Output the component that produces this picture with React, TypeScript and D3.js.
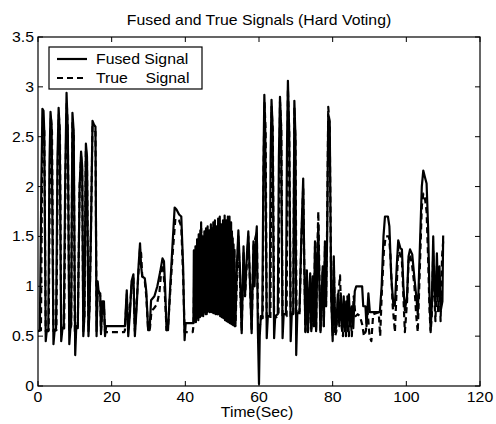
import React from "react";
import * as d3 from "d3";

const xTicks = [0, 20, 40, 60, 80, 100, 120];
const yTicks = [0, 0.5, 1, 1.5, 2, 2.5, 3, 3.5];
const yTickLabels = ["0", "0.5", "1", "1.5", "2", "2.5", "3", "3.5"];
const titleText = "Fused and True Signals (Hard Voting)";
const xLabelText = "Time(Sec)";
const legendLabels = ["Fused Signal", "True    Signal"];

// Fused signal [time, value]
const fusedA: [number, number][] = [
  [0, 0.55], [0.5, 0.56], [0.9, 2.0], [1.2, 2.78], [1.5, 2.76], [1.7, 2.55], [2.1, 0.45], [2.4, 0.56], [2.8, 0.55],
  [3.1, 2.2], [3.4, 2.75], [3.7, 2.6], [4.2, 0.42], [4.5, 0.55], [4.9, 0.58], [5.3, 2.3], [5.6, 2.79], [5.9, 2.55],
  [6.3, 0.45], [6.6, 0.56], [7.0, 0.6], [7.4, 2.1], [7.75, 2.94], [8.1, 2.55], [8.5, 0.42], [8.8, 0.58], [9.0, 0.62],
  [9.35, 2.74], [9.7, 2.55], [10.1, 0.31], [10.4, 0.6], [10.8, 0.58], [11.3, 2.0], [11.7, 2.35], [12.0, 2.2],
  [12.3, 0.5], [12.6, 0.7], [13.0, 2.43], [13.3, 2.3], [13.7, 0.5], [14.0, 0.8], [14.4, 1.6], [14.8, 2.66],
  [15.2, 2.62], [15.6, 2.6], [15.9, 0.5], [16.2, 1.05], [16.5, 0.93], [16.9, 0.93], [17.1, 0.52], [17.5, 0.85],
  [17.9, 0.85], [18.2, 0.5], [18.5, 0.6], [23.6, 0.6],
];
const fusedB: [number, number][] = [
  [24.1, 0.96], [24.5, 0.5], [25.0, 0.75], [25.4, 1.05], [25.9, 1.12], [26.3, 0.5], [26.8, 0.8], [27.3, 1.2],
  [27.7, 1.43], [28.0, 1.2], [28.3, 1.1], [29.0, 1.08], [29.4, 0.95], [29.9, 0.56], [30.3, 0.56], [30.7, 0.86],
  [31.6, 0.9], [32.4, 1.0], [33.2, 1.15], [33.8, 1.28], [34.2, 1.25], [34.5, 1.0], [34.9, 0.56], [35.3, 0.56],
  [35.9, 1.0], [36.5, 1.4], [37.1, 1.79], [37.6, 1.77], [38.3, 1.72], [38.9, 1.7], [39.4, 1.2], [39.8, 0.46],
  [40.1, 0.63], [42.2, 0.63],
];
const fusedC: [number, number][] = [
  [42.31, 1.36], [42.42, 0.65], [42.53, 1.22], [42.64, 0.66], [42.75, 1.4], [42.86, 0.64], [42.97, 1.3], [43.08, 0.68],
  [43.19, 1.47], [43.3, 0.7], [43.41, 1.34], [43.52, 0.66], [43.63, 1.52], [43.74, 0.72], [43.85, 1.4], [43.96, 0.69],
  [44.07, 1.56], [44.18, 0.7], [44.29, 1.64], [44.4, 0.71], [44.51, 1.44], [44.62, 0.73], [44.73, 1.5], [44.84, 0.7],
  [44.95, 1.38], [45.06, 0.74], [45.17, 1.55], [45.28, 0.75], [45.39, 1.46], [45.5, 0.72], [45.61, 1.58], [45.72, 0.76],
  [45.83, 1.42], [45.94, 0.74], [46.05, 1.6], [46.16, 0.75], [46.27, 1.48], [46.38, 0.77], [46.49, 1.56], [46.6, 0.74],
  [46.71, 1.44], [46.82, 0.76], [46.93, 1.62], [47.04, 0.75], [47.15, 1.5], [47.26, 0.77], [47.37, 1.58], [47.48, 0.74],
  [47.59, 1.64], [47.7, 0.76], [47.81, 1.46], [47.92, 0.75], [48.03, 1.66], [48.14, 0.73], [48.25, 1.52], [48.36, 0.75],
  [48.47, 1.6], [48.58, 0.72], [48.69, 1.55], [48.8, 0.74], [48.91, 1.68], [49.02, 0.72], [49.13, 1.5], [49.24, 0.73],
  [49.35, 1.7], [49.46, 0.7], [49.57, 1.56], [49.68, 0.72], [49.79, 1.62], [49.9, 0.69], [50.01, 1.52], [50.12, 0.7],
  [50.23, 1.66], [50.34, 0.68], [50.45, 1.58], [50.56, 0.7], [50.67, 1.71], [50.78, 0.66], [50.89, 1.54], [51.0, 0.68],
  [51.11, 1.66], [51.22, 0.65], [51.33, 1.6], [51.44, 0.66], [51.55, 1.7], [51.66, 0.64], [51.77, 1.56], [51.88, 0.66],
  [51.99, 1.7], [52.1, 0.63], [52.21, 1.5], [52.32, 0.65], [52.43, 1.64], [52.54, 0.62], [52.65, 1.55], [52.76, 0.64],
  [52.87, 1.48], [52.98, 0.61], [53.09, 1.42], [53.2, 0.62], [53.31, 1.36], [53.42, 0.6],
];
const fusedD: [number, number][] = [
  [53.6, 0.62], [54.0, 1.2], [54.4, 1.56], [54.8, 1.2], [55.3, 0.53], [55.8, 1.4], [56.2, 0.9], [56.7, 1.3],
  [57.1, 1.55], [57.5, 1.1], [58.0, 0.53], [58.5, 1.45], [58.8, 1.0], [59.2, 1.5], [59.4, 1.6], [59.7, 0.55],
  [60.0, 0.02], [60.2, 0.5], [60.5, 0.7],
];
const fusedE: [number, number][] = [
  [60.9, 0.7], [61.2, 2.2], [61.45, 2.92], [61.7, 2.55], [62.1, 0.48], [62.4, 0.7], [62.9, 0.7], [63.15, 2.3],
  [63.4, 2.87], [63.7, 2.58], [64.1, 0.48], [64.4, 0.7], [65.1, 0.72], [65.4, 2.3], [65.7, 2.9], [66.0, 2.6],
  [66.4, 0.48], [66.7, 0.72], [67.3, 0.72], [67.6, 2.4], [67.85, 3.06], [68.2, 2.55], [68.6, 0.45], [68.9, 0.72],
  [69.3, 0.72], [69.6, 2.86], [69.9, 2.5], [70.1, 0.31], [70.4, 0.72], [71.0, 0.75], [71.5, 1.5], [72.0, 2.08],
  [72.3, 1.2], [72.6, 0.54],
];
const fusedF: [number, number][] = [
  [73.0, 1.16], [73.3, 0.54], [73.6, 0.9], [73.9, 1.13], [74.2, 0.55], [74.6, 1.1], [74.9, 0.6], [75.2, 1.45],
  [75.5, 0.55], [75.8, 1.2], [76.1, 1.62], [76.4, 1.0], [76.7, 0.54], [77.0, 0.9], [77.3, 1.2], [77.6, 0.6],
  [77.9, 1.45], [78.2, 0.8], [78.5, 1.5], [78.8, 2.72], [79.2, 2.65], [79.6, 0.9], [80.0, 0.45], [80.3, 1.3],
  [80.7, 0.55],
];
const fusedG: [number, number][] = [
  [81.0, 0.6], [81.4, 0.92], [81.8, 0.6], [82.2, 0.93], [82.6, 0.55], [83.0, 0.9], [83.3, 0.55], [83.7, 0.85],
  [84.0, 0.55], [84.4, 0.92], [84.8, 0.6], [85.2, 0.8], [85.6, 0.58], [86.0, 0.95], [86.4, 1.0], [88.0, 1.0],
  [88.3, 0.8], [88.9, 0.8], [89.2, 0.6], [89.7, 0.93], [90.1, 0.74], [92.8, 0.74],
];
const fusedH: [number, number][] = [
  [93.3, 1.0], [93.8, 1.5], [94.2, 1.7], [95.0, 1.7], [95.4, 1.6], [95.9, 1.1], [96.5, 0.8], [96.9, 0.82],
  [97.4, 1.2], [97.8, 1.46], [98.4, 1.38], [98.8, 1.37], [99.2, 1.0], [99.6, 0.76], [100.2, 0.9], [100.6, 1.3],
  [101.0, 1.37], [101.6, 1.32], [102.2, 1.08], [102.7, 0.9], [103.1, 0.72], [103.6, 1.3], [104.2, 2.0], [104.6, 2.16],
  [105.0, 2.1], [105.5, 2.03], [105.9, 1.6], [106.3, 0.9], [106.6, 0.56], [106.9, 0.8], [107.3, 1.5], [107.6, 1.0],
  [107.9, 0.8], [108.3, 1.33], [108.6, 0.9], [109.0, 1.2], [109.3, 0.75], [109.8, 0.85], [110.0, 1.51],
];

// True signal [time, value]
const trueA: [number, number][] = [
  [0, 0.55], [0.8, 0.56], [1.1, 2.1], [1.35, 2.7], [1.7, 2.55], [2.1, 0.55], [2.9, 0.56], [3.2, 2.0], [3.5, 2.7],
  [3.8, 2.55], [4.2, 0.55], [5.0, 0.56], [5.35, 2.2], [5.65, 2.72], [5.95, 2.55], [6.3, 0.55], [7.1, 0.58],
  [7.5, 2.2], [7.8, 2.85], [8.1, 2.55], [8.5, 0.55], [9.0, 0.6], [9.35, 2.65], [9.7, 2.5], [10.0, 0.55], [10.8, 0.6],
  [11.3, 2.0], [11.7, 2.3], [12.0, 2.15], [12.3, 0.55], [12.6, 0.7], [13.0, 2.38], [13.3, 2.25], [13.7, 0.55],
  [14.0, 0.8], [14.4, 1.6], [14.8, 2.6], [15.6, 2.55], [15.9, 0.55], [16.2, 1.0], [16.9, 0.9], [17.1, 0.55],
  [17.5, 0.8], [17.9, 0.8], [18.2, 0.54], [23.4, 0.54],
];
const trueB: [number, number][] = [
  [23.6, 0.56], [24.1, 0.92], [24.5, 0.55], [25.4, 1.0], [25.9, 1.08], [26.3, 0.55], [27.3, 1.15], [27.7, 1.38],
  [28.0, 1.33], [28.3, 1.1], [29.0, 1.05], [29.4, 0.9], [29.9, 0.56], [30.4, 0.58], [30.8, 0.75], [31.5, 0.78],
  [32.3, 0.82], [33.0, 0.95], [33.6, 1.22], [34.0, 1.2], [34.4, 0.95], [34.9, 0.56], [35.3, 0.58], [35.9, 0.95],
  [36.5, 1.3], [37.3, 1.68], [38.3, 1.66], [38.9, 1.6], [39.4, 1.1], [39.8, 0.54], [42.0, 0.54],
];
const trueC: [number, number][] = [
  [42.2, 0.6], [42.5, 1.3], [42.8, 0.66], [43.1, 1.4], [43.4, 0.68], [43.7, 1.48], [44.0, 0.7], [44.3, 1.58],
  [44.6, 0.72], [44.9, 1.45], [45.2, 0.74], [45.5, 1.5], [45.8, 0.72], [46.1, 1.55], [46.4, 0.75], [46.7, 1.52],
  [47.0, 0.74], [47.3, 1.58], [47.6, 0.73], [47.9, 1.6], [48.2, 0.72], [48.5, 1.55], [48.8, 0.72], [49.1, 1.5],
  [49.4, 0.7], [49.7, 1.62], [50.0, 0.7], [50.3, 1.5], [50.6, 0.68], [50.9, 1.65], [51.2, 0.66], [51.5, 1.55],
  [51.8, 0.65], [52.1, 1.6], [52.4, 0.64], [52.7, 1.5], [53.0, 0.62], [53.3, 1.38], [53.5, 0.6],
];
const trueD: [number, number][] = [
  [53.6, 0.6], [54.4, 1.5], [55.3, 0.55], [55.8, 1.35], [56.2, 0.9], [57.1, 1.5], [58.0, 0.55], [58.5, 1.4],
  [59.4, 1.55], [59.8, 0.55], [60.2, 0.6], [60.6, 0.68],
];
const trueE: [number, number][] = [
  [61.0, 0.68], [61.25, 2.2], [61.5, 2.85], [61.8, 2.55], [62.1, 0.68], [63.1, 0.68], [63.4, 2.8], [63.75, 2.55],
  [64.1, 0.68], [65.3, 0.7], [65.7, 2.85], [66.05, 2.58], [66.4, 0.7], [67.5, 0.7], [67.85, 2.98], [68.2, 2.55],
  [68.6, 0.7], [69.3, 0.7], [69.6, 2.8], [69.9, 2.45], [70.2, 0.7], [71.0, 0.72], [71.5, 1.45], [72.0, 2.0],
  [72.3, 1.2], [72.6, 0.55],
];
const trueF: [number, number][] = [
  [73.0, 1.1], [73.3, 0.55], [73.9, 1.08], [74.2, 0.55], [74.6, 1.05], [74.9, 0.6], [75.2, 1.4], [75.5, 0.55],
  [75.8, 1.3], [76.1, 1.75], [76.4, 1.1], [76.7, 0.55], [77.3, 1.15], [77.6, 0.6], [77.9, 1.4], [78.2, 0.8],
  [78.5, 1.6], [78.8, 2.8], [79.2, 2.6], [79.6, 0.9], [80.0, 0.5], [80.3, 1.25], [80.7, 0.5],
];
const trueG: [number, number][] = [
  [81.0, 0.55], [81.5, 0.9], [82.0, 1.11], [82.4, 0.6], [82.8, 0.5], [83.2, 0.85], [83.6, 0.5], [84.0, 0.9],
  [84.4, 0.5], [84.8, 0.75], [85.2, 0.5], [85.7, 0.9], [86.2, 0.7], [86.8, 0.72], [87.4, 0.7], [88.0, 0.62],
  [88.5, 0.5], [89.0, 0.55], [89.5, 0.75], [90.0, 0.5], [90.5, 0.45], [91.0, 0.72], [92.5, 0.74], [92.9, 0.5],
];
const trueH: [number, number][] = [
  [93.3, 0.9], [93.9, 1.35], [94.4, 1.5], [95.3, 1.5], [95.7, 1.3], [96.3, 0.8], [96.9, 0.54], [97.4, 1.0],
  [97.8, 1.4], [98.4, 1.3], [98.8, 1.25], [99.2, 0.9], [99.6, 0.54], [100.2, 0.85], [100.6, 1.25], [101.0, 1.32],
  [101.6, 1.2], [102.2, 1.0], [102.7, 0.7], [103.1, 0.54], [103.6, 1.1], [104.2, 1.8], [104.6, 1.93], [105.0, 1.9],
  [105.5, 1.75], [105.9, 1.3], [106.3, 0.75], [106.6, 0.54], [106.9, 0.7], [107.3, 1.35], [107.6, 0.9], [107.9, 0.65],
  [108.3, 1.2], [108.6, 0.75], [109.0, 1.1], [109.3, 0.65], [109.7, 1.3], [110.0, 1.45],
];

const fusedSignal = [...fusedA, ...fusedB, ...fusedC, ...fusedD, ...fusedE, ...fusedF, ...fusedG, ...fusedH];
const trueSignal = [...trueA, ...trueB, ...trueC, ...trueD, ...trueE, ...trueF, ...trueG, ...trueH];

const W = 496, H = 424;
const L = 38, R = 480, T = 37, B = 386;
const FONT = "'Liberation Sans', Arial, Helvetica, sans-serif";
const SX = 1.13;

function SText({ x, y, anchor, size, children }: any) {
  return (
    <text
      transform={`translate(${x},${y}) scale(${SX},1)`}
      textAnchor={anchor}
      fontFamily={FONT}
      fontSize={size}
      fill="#000"
      style={{ whiteSpace: "pre" }}
    >
      {children}
    </text>
  );
}

export default function App() {
  const x = d3.scaleLinear().domain([0, 120]).range([L, R]);
  const y = d3.scaleLinear().domain([0, 3.5]).range([B, T]);
  const line = d3
    .line<[number, number]>()
    .x((d) => x(d[0]))
    .y((d) => y(d[1]));
  const tk = 5;
  return (
    <svg
      width={W}
      height={H}
      style={{ position: "absolute", left: 0, top: 0, background: "#fff" }}
    >
      <rect x={0} y={0} width={W} height={H} fill="#fff" />
      <defs>
        <clipPath id="plotclip">
          <rect x={L} y={T} width={R - L} height={B - T} />
        </clipPath>
      </defs>
      <g clipPath="url(#plotclip)">
        <path d={line(fusedSignal) || ""} fill="none" stroke="#000" strokeWidth={2.2} strokeLinejoin="round" />
        <path
          d={line(trueSignal) || ""}
          fill="none"
          stroke="#000"
          strokeWidth={2.2}
          strokeDasharray="6,4"
          strokeLinejoin="round"
        />
      </g>
      <rect x={L} y={T} width={R - L} height={B - T} fill="none" stroke="#000" strokeWidth={1.2} />
      {xTicks.map((t) => (
        <g key={"xt" + t}>
          <line x1={x(t)} x2={x(t)} y1={B} y2={B - tk} stroke="#000" />
          <line x1={x(t)} x2={x(t)} y1={T} y2={T + tk} stroke="#000" />
          <SText x={x(t)} y={402} anchor="middle" size={14}>
            {String(t)}
          </SText>
        </g>
      ))}
      {yTicks.map((t, i) => (
        <g key={"yt" + t}>
          <line x1={L} x2={L + tk} y1={y(t)} y2={y(t)} stroke="#000" />
          <line x1={R} x2={R - tk} y1={y(t)} y2={y(t)} stroke="#000" />
          <SText x={34} y={y(t) + 5} anchor="end" size={14}>
            {yTickLabels[i]}
          </SText>
        </g>
      ))}
      <SText x={(L + R) / 2} y={25} anchor="middle" size={14}>
        {titleText}
      </SText>
      <SText x={257} y={417} anchor="middle" size={14}>
        {xLabelText}
      </SText>
      <g>
        <rect x={49} y={47} width={153} height={42} fill="#fff" stroke="#000" strokeWidth={1.2} />
        <line x1={57} x2={87} y1={59} y2={59} stroke="#000" strokeWidth={2.2} />
        <line x1={57} x2={87} y1={78} y2={78} stroke="#000" strokeWidth={2.2} strokeDasharray="6,4" />
        <SText x={96} y={64} anchor="start" size={14}>
          {legendLabels[0]}
        </SText>
        <SText x={96} y={83} anchor="start" size={14}>
          {legendLabels[1]}
        </SText>
      </g>
    </svg>
  );
}
